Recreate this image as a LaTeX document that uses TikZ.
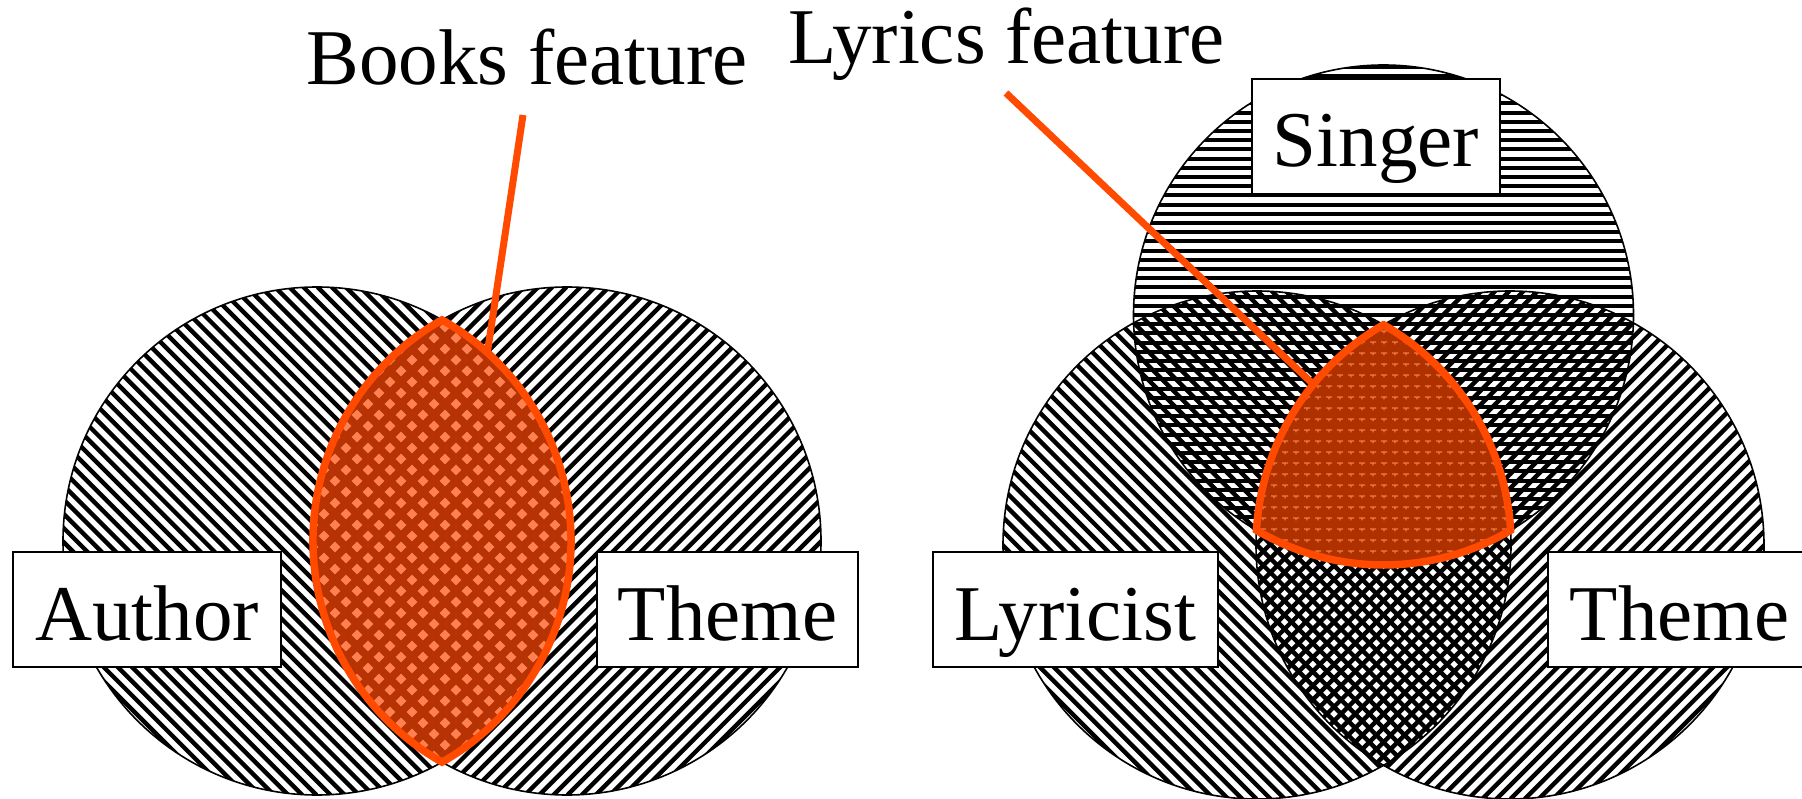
\documentclass[tikz,border=0pt]{standalone}
\usepackage{fontspec}
\setmainfont{Liberation Serif}

\definecolor{featureLine}{HTML}{FF4A00}
\definecolor{lensDark}{HTML}{B83303}
\definecolor{lensLight}{HTML}{FF8050}
\definecolor{triDark}{HTML}{B03100}
\definecolor{triLight}{HTML}{F27A45}

\newcommand\vennfont{\fontsize{79pt}{79pt}\selectfont}

% hatching of a disc: centre x, centre y, radius
\newcommand\hatchDown[3]{% lines falling to the right
  \begin{scope}
    \clip (#1,#2) circle[radius=#3];
    \draw[hatchline] foreach \k in {-38,...,38}
      { ({#1+\k*14.14-#3},{#2-#3}) -- ({#1+\k*14.14+#3},{#2+#3}) };
  \end{scope}}
\newcommand\hatchUp[3]{% lines rising to the right
  \begin{scope}
    \clip (#1,#2) circle[radius=#3];
    \draw[hatchline] foreach \k in {-38,...,38}
      { ({#1+\k*14.14-#3},{#2+#3}) -- ({#1+\k*14.14+#3},{#2-#3}) };
  \end{scope}}
\newcommand\hatchFlat[3]{% horizontal lines
  \begin{scope}
    \clip (#1,#2) circle[radius=#3];
    \draw[hatchline, line width=4.1pt] foreach \k in {-28,...,28}
      { ({#1-#3},{#2+\k*9.2}) -- ({#1+#3},{#2+\k*9.2}) };
  \end{scope}}

% outlines of the two highlighted regions
\newcommand\lensPath{(442,319.9) arc[start angle=-60.52, end angle=60.52, radius=254]
  arc[start angle=119.48, end angle=240.52, radius=254] -- cycle}
\newcommand\triPath{(1383.5,324.74) arc[start angle=240.12, end angle=183.32, radius=254]
  arc[start angle=120.55, end angle=59.45, radius=250]
  arc[start angle=-3.32, end angle=-60.12, radius=254] -- cycle}

\tikzset{
  hatchline/.style={line width=4.4pt, line cap=butt},
  setcircle/.style={circle, draw=black, line width=1.6pt, inner sep=0pt, minimum size=#1},
  labelbox/.style={draw=black, line width=2.2pt, fill=white, inner xsep=0pt, inner ysep=0pt,
    text height=88pt, text depth=27pt, minimum width=#1, font=\vennfont},
  caption/.style={inner sep=0pt, anchor=base, font=\vennfont},
  featureEdge/.style={draw=featureLine, line width=7.5pt, line join=miter},
  leader/.style={draw=featureLine, line width=7pt},
}

\begin{document}
\begin{tikzpicture}[x=1pt, y=-1pt]
  \fill[white] (0,0) rectangle (1802,799);
  \useasboundingbox (0,0) rectangle (1802,799);

  % hatched sets
  \hatchDown{317}{541}{254}
  \hatchUp{567}{541}{254}
  \hatchFlat{1383.5}{315}{250}
  \hatchDown{1257}{545}{254}
  \hatchUp{1510}{545}{254}

  % set outlines
  \node[setcircle=508pt] (author) at (317,541) {};
  \node[setcircle=508pt] (themeL) at (567,541) {};
  \node[setcircle=500pt] (singer) at (1383.5,315) {};
  \node[setcircle=508pt] (lyricist) at (1257,545) {};
  \node[setcircle=508pt] (themeR) at (1510,545) {};

  % Author and Theme: dotted orange lens
  \begin{scope}
    \clip \lensPath;
    \fill[lensDark] (300,310) rectangle (590,770);
    \fill[lensLight] foreach \j in {0,...,42} { foreach \i in {0,...,13}
      { ({302+22*\i+11*mod(\j,2)},{316+11*\j}) +(-5.3,0) -- +(0,-5.3) -- +(5.3,0) -- +(0,5.3) -- cycle } };
  \end{scope}
  \path[featureEdge] \lensPath;

  % Singer, Lyricist and Theme: the common region
  \begin{scope}
    \clip \triPath;
    \fill[triDark] (1240,310) rectangle (1530,580);
    \fill[triLight] foreach \j in {0,...,24} { foreach \i in {0,...,25}
      { ({1252+11*\i},{320+11*\j}) +(-3,-0.7) rectangle +(3,0.7)
        ({1252+11*\i},{320+11*\j}) +(-0.6,0.7) rectangle +(0.6,2.4) } };
  \end{scope}
  \path[featureEdge] \triPath;

  % set labels
  \node[labelbox=268pt] (authorLabel) at (147,609.5) {Author};
  \node[labelbox=261pt] (themeLLabel) at (727.5,609.5) {Theme};
  \node[labelbox=285pt] (lyricistLabel) at (1075.5,609.5) {Lyricist};
  \node[labelbox=263pt] (themeRLabel) at (1679.5,609.5) {Theme};
  \node[labelbox=248pt] (singerLabel) at (1376,136.5) {Singer};

  % feature captions and leaders
  \node[caption] (booksText) at (527,85) {Books feature};
  \node[caption] (lyricsText) at (1006.5,64) {Lyrics feature};
  \coordinate (booksTip) at (487,355);
  \coordinate (lyricsTip) at (1313,384);
  \draw[leader] ([shift={(-4,30)}]booksText.base) -- (booksTip);
  \draw[leader] ([shift={(-0.5,29)}]lyricsText.base) -- (lyricsTip);
\end{tikzpicture}
\end{document}
